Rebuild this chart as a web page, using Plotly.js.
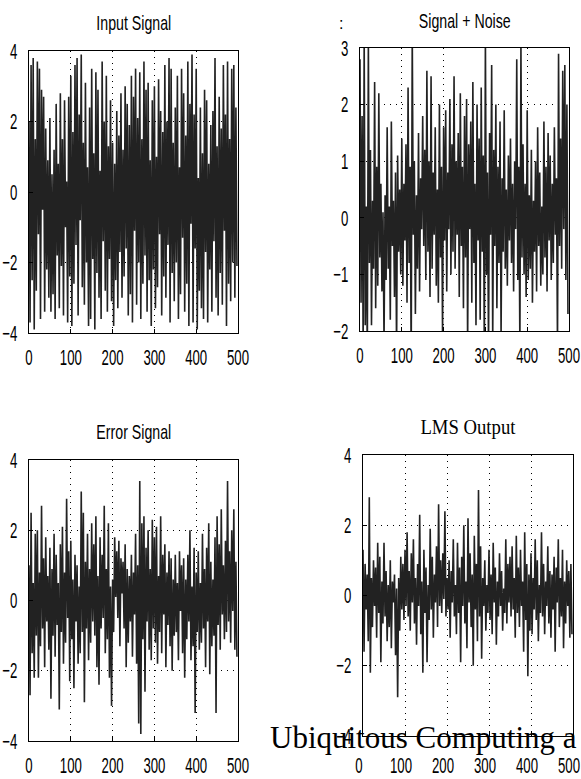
<!DOCTYPE html>
<html>
<head>
<meta charset="utf-8">
<script src="https://cdn.plot.ly/plotly-3.0.1.min.js"></script>
<style>html,body{margin:0;padding:0;background:#fff;}#chart{width:581px;height:779px;}</style>
</head>
<body>
<div id="chart"></div>
<script>
// ---- data (sample values, every 2.5 samples) ----
const titles = ["Input Signal", "Signal + Noise", "Error Signal", "LMS Output"];
const xTicks = [0, 100, 200, 300, 400, 500];
const sampleStep = 2.5;

const inputSignal = [
 2.0,-3.7,3.6,-2.5,3.8,-3.9,1.5,-2.8,3.7,-1.2,3.5,-3.6,2.9,-0.5,2.7,-3.4,1.8,-2.2,0.9,-3.0,
 2.1,-3.4,0.5,-2.9,1.2,-3.6,2.5,-1.8,0.8,-3.3,2.8,-2.1,1.5,-3.5,2.6,-1.0,0.3,-3.7,2.7,-2.4,
 3.3,-3.8,1.7,-2.6,3.6,-1.5,3.8,-3.5,2.2,-0.8,3.9,-2.7,1.4,-3.2,3.1,-2.0,0.7,-3.8,2.4,-3.6,
 3.5,-1.9,1.1,-3.9,3.4,-2.3,2.9,-3.0,0.6,-3.6,3.7,-1.4,2.0,-2.8,3.3,-3.4,1.3,-1.9,2.6,-3.1,
 1.4,-3.8,0.8,-2.5,2.3,-3.3,1.6,-1.7,2.8,-3.0,1.2,-2.4,3.0,-1.6,2.5,-3.5,1.9,-2.9,3.3,-3.7,
 2.7,-1.1,3.5,-3.2,2.1,-2.0,3.4,-3.6,1.5,-2.6,3.7,-1.8,2.9,-3.4,3.1,-2.5,0.9,-3.8,2.6,-2.2,
 3.0,-3.3,1.0,-2.7,3.2,-1.2,2.3,-3.5,1.7,-2.4,3.6,-3.0,2.0,-1.5,3.8,-3.7,3.5,-2.3,1.4,-3.1,
 2.4,-2.0,3.3,-3.6,0.7,-2.9,3.5,-1.3,2.8,-3.4,1.6,-2.6,3.7,-3.8,2.5,-0.9,3.9,-3.7,2.2,-1.6,
 3.5,-3.9,0.4,-2.8,2.4,-3.3,1.1,-3.6,2.9,-1.7,2.6,-3.7,0.8,-2.2,1.9,-3.4,2.3,-1.4,3.8,-3.0,
 1.3,-3.5,2.7,-2.3,1.8,-3.2,3.6,-1.1,2.2,-3.8,3.7,-2.6,1.5,-3.1,3.5,-2.0,3.6,-3.0,2.4,-2.1
];
const signalNoise = [
 2.8,-1.5,1.8,-2.3,3.2,-1.9,0.2,-2.5,3.1,-0.8,1.2,-1.9,0.3,-0.9,2.4,-1.6,0.9,-1.2,2.2,-0.7,
 0.6,-1.3,0.1,-2.2,0.4,-1.1,1.6,-0.9,0.2,-1.8,1.7,-0.5,0.3,-1.4,0.8,-2.4,1.1,-0.6,0.5,-1.0,
 1.4,-1.2,0.6,-0.4,1.3,-1.5,2.3,-0.8,0.9,-2.6,3.3,-0.3,1.0,-1.7,0.4,-0.9,1.5,-1.3,0.7,-0.2,
 1.8,-0.5,1.2,-1.1,2.6,-0.6,1.0,-1.4,2.5,-0.9,0.8,-0.3,1.6,-1.2,0.5,-1.5,2.0,-0.7,0.9,-2.1,
 1.6,-0.4,1.9,-1.3,0.8,-0.2,2.1,-1.0,1.3,-0.6,2.5,-0.9,1.0,-0.3,1.5,-1.4,2.2,-0.5,0.9,-1.6,
 1.8,-0.7,2.1,-2.3,1.3,-0.2,1.7,-1.5,2.4,-0.8,0.6,-1.9,2.0,-0.4,1.4,-1.8,2.3,-0.6,1.1,-2.5,
 3.2,-1.0,0.8,-2.4,1.5,-0.3,2.7,-2.2,1.2,-0.5,2.0,-1.6,0.9,-0.8,1.7,-2.1,0.7,-0.6,1.9,-0.9,
 0.5,-1.2,1.1,-0.4,1.4,-0.8,0.6,-1.3,1.0,-0.2,2.8,-1.1,0.9,-2.3,3.1,-0.7,1.3,-1.0,0.6,-1.4,
 1.9,-1.1,0.4,-0.9,1.2,-1.5,0.3,-0.6,1.0,-1.3,1.6,-0.5,0.8,-1.2,0.2,-1.0,1.7,-0.7,0.9,-1.3,
 1.5,-0.4,1.1,-1.1,0.6,-0.8,1.6,-0.3,0.7,-2.3,2.9,-0.5,1.4,-0.9,2.6,-0.2,2.7,-1.1,2.0,-1.7
];
const errorSignal = [
 1.0,-2.7,2.5,-1.5,0.5,-2.2,1.9,-1.0,2.0,-2.2,0.8,-1.3,2.7,-0.8,1.2,-1.9,1.8,-0.6,0.7,-1.4,
 1.5,-2.8,0.9,-1.0,1.9,-1.6,1.3,-0.7,0.5,-3.1,1.6,-0.9,2.1,-1.8,0.8,-1.2,2.9,-0.5,1.4,-2.3,
 1.7,-1.1,0.6,-2.5,1.3,-0.6,1.0,-1.8,0.4,-1.5,3.1,-0.9,2.5,-2.9,1.1,-0.8,1.9,-1.7,0.9,-1.2,
 2.2,-0.6,1.6,-1.0,2.4,-1.9,0.7,-2.4,1.8,-0.8,1.3,-0.5,2.7,-1.5,0.9,-1.1,2.2,-2.2,0.4,-3.0,
 0.6,-0.9,1.8,0.1,1.4,-0.5,1.7,-1.3,1.2,0.2,1.1,-0.8,1.6,-1.9,0.9,-1.2,0.7,-0.6,1.3,-1.6,
 0.8,-0.4,1.9,-1.8,1.0,-3.5,3.4,-3.8,2.2,-1.1,2.4,-2.6,1.5,-0.6,2.0,-1.4,0.9,-1.7,2.3,-0.8,
 1.8,-1.2,2.1,-1.8,0.7,-0.9,2.4,-1.5,1.3,-0.4,1.6,-1.9,0.8,-0.7,1.4,-1.3,1.2,-2.0,0.6,-1.0,
 1.3,-0.9,0.5,-1.7,1.4,-0.3,1.0,-1.5,1.2,-2.2,0.6,-1.1,1.3,-0.6,2.0,-1.7,0.4,-1.3,1.5,-3.2,
 0.8,-0.9,1.4,-1.4,0.5,-1.2,1.9,-0.8,0.9,-1.9,1.5,-0.6,2.2,-2.1,1.1,-1.3,0.6,-1.0,1.8,-3.2,
 2.4,-0.7,1.6,-1.4,2.6,-0.4,1.0,-1.1,1.7,-0.9,3.4,-0.6,1.4,-1.2,2.0,-0.3,2.6,-1.4,1.1,-1.6
];
const lmsOutput = [
 1.3,-1.6,0.9,-0.4,0.6,-1.3,2.8,-2.2,0.5,-0.9,1.0,-0.3,0.8,-1.2,1.5,-0.5,1.1,-1.9,0.4,-0.8,
 1.5,-0.6,0.7,-1.3,0.3,-0.9,1.0,-1.5,0.4,-0.2,0.6,-1.7,0.2,-2.9,0.5,-1.0,1.1,-0.4,0.9,-0.7,
 1.3,-0.3,1.8,-0.6,0.7,-1.0,1.2,-0.2,1.6,-0.8,0.5,-1.4,0.9,-0.3,2.3,-1.1,0.4,-2.2,1.3,-0.5,
 0.8,-1.9,0.3,-0.7,1.9,-0.4,1.1,-1.2,0.6,-0.2,1.4,-0.9,2.6,-0.3,1.0,-0.5,1.2,-0.1,2.4,-0.6,
 0.5,-0.4,1.0,-1.2,0.7,-0.2,1.6,-0.6,0.3,-1.1,1.5,-0.5,0.8,-1.9,1.1,-0.3,2.0,-0.8,0.4,-1.5,
 2.2,-0.2,1.2,-0.9,0.6,-2.0,1.7,-0.4,0.9,-1.3,3.0,-0.6,1.4,-1.8,0.5,-0.3,1.0,-1.0,0.3,-0.5,
 1.3,-0.7,0.6,-1.1,1.5,-0.2,0.8,-1.4,0.4,-0.6,1.2,-0.3,0.7,-1.0,0.2,-0.5,1.6,-0.8,0.9,-0.2,
 1.1,-0.6,1.4,-0.4,0.5,-1.2,1.7,-0.5,0.8,-0.9,1.3,-0.3,0.4,-1.6,1.8,-0.7,0.9,-2.3,0.6,-1.0,
 1.2,-1.1,0.5,-0.4,1.6,-0.7,1.0,-1.3,0.3,-0.5,1.8,-0.6,0.9,-1.1,0.4,-0.3,1.4,-0.8,0.7,-1.2,
 0.6,-0.4,1.1,-1.6,0.8,-0.2,1.6,-0.9,0.5,-0.6,1.3,-1.5,0.4,-0.8,1.0,-0.3,0.7,-1.2,0.9,-1.1
];
const yRanges = [[-4,4],[-2,3],[-4,4],[-4,4]];
const yDticks = [2,1,2,2];
const overlayText = "Ubiquitous Computing a";

// ---- layout helpers (pixel -> paper) ----
const W = 581, H = 779;
const px = v => v / W;
const py = v => 1 - v / H;
const boxes = [
  {l:29, r:238, t:51, b:333, ty:23},
  {l:360, r:569, t:48, b:331, ty:21},
  {l:29, r:238, t:460, b:741, ty:432},
  {l:363, r:573, t:455, b:736, ty:426}
];
const series = [inputSignal, signalNoise, errorSignal, lmsOutput];
const sans = '"Liberation Sans", Arial, sans-serif';
const serif = '"Liberation Serif", "Times New Roman", serif';

const traces = series.map((ys, i) => ({
  type: 'scatter', mode: 'lines',
  x: ys.map((_, k) => k * sampleStep), y: ys,
  xaxis: i === 0 ? 'x' : 'x' + (i + 1),
  yaxis: i === 0 ? 'y' : 'y' + (i + 1),
  line: {color: '#222', width: 1.6},
  hoverinfo: 'skip', showlegend: false
}));

const layout = {
  width: W, height: H,
  margin: {l:0, r:0, t:0, b:0},
  paper_bgcolor: '#fff', plot_bgcolor: '#fff',
  showlegend: false,
  annotations: []
};
boxes.forEach((b, i) => {
  const sx = i === 0 ? '' : String(i + 1);
  const common = {
    showline: true, mirror: true, linecolor: '#000', linewidth: 1.3,
    ticks: 'inside', ticklen: 4, tickcolor: '#000', tickwidth: 1,
    showgrid: true, gridcolor: '#000', gridwidth: 1, griddash: '1px,5px',
    zeroline: false, fixedrange: true, ticklabeloverflow: 'allow',
    tickfont: {family: sans, size: 22, color: '#000'}
  };
  layout['xaxis' + sx] = Object.assign({}, common, {
    domain: [px(b.l), px(b.r)], range: [0, 500],
    tickmode: 'array', tickvals: xTicks, ticktext: xTicks.map(String),
    anchor: 'y' + sx, ticklabelstandoff: i === 3 ? 9 : 4
  });
  layout['yaxis' + sx] = Object.assign({}, common, {
    domain: [py(b.b), py(b.t)], range: yRanges[i],
    tick0: 0, dtick: yDticks[i],
    anchor: 'x' + sx, ticklabelstandoff: 6
  });
  layout.annotations.push({
    xref: 'paper', yref: 'paper',
    x: px((b.l + b.r) / 2), y: py(b.ty),
    xanchor: 'center', yanchor: 'middle', showarrow: false,
    text: titles[i],
    font: {family: i === 3 ? serif : sans, size: i === 3 ? 22 : 20, color: '#000'}
  });
});
layout.annotations.push({
  xref: 'paper', yref: 'paper', x: px(341), y: py(24),
  xanchor: 'center', yanchor: 'middle', showarrow: false,
  text: ':', font: {family: sans, size: 16, color: '#000'}
});
layout.annotations.push({
  xref: 'paper', yref: 'paper', x: px(268), y: py(737),
  xanchor: 'left', yanchor: 'middle', showarrow: false,
  text: overlayText, font: {family: serif, size: 31, color: '#000'}
});

// horizontal squeeze of a text element (the reference lettering is tall and narrow)
function squeeze(el, s, anchor, dx) {
  const bb = el.getBBox();
  const cx = anchor === 'end' ? bb.x + bb.width : bb.x + bb.width / 2;
  const t = el.getAttribute('transform') || '';
  el.setAttribute('transform', `${t} translate(${cx + (dx || 0)},0) scale(${s},1) translate(${-cx},0)`);
}

Plotly.newPlot('chart', traces, layout, {staticPlot: true, displayModeBar: false}).then(gd => {
  gd.querySelectorAll('.xaxislayer-above text').forEach(el => {
    const inLast = el.closest('.x4tick') !== null;
    squeeze(el, 0.6, 'middle', inLast ? -4 : 0);
  });
  gd.querySelectorAll('.yaxislayer-above text').forEach(el => squeeze(el, 0.6, 'end'));
  gd.querySelectorAll('.annotation-text').forEach(el => {
    const txt = el.textContent;
    if (txt === titles[3]) squeeze(el, 0.85, 'middle');
    else if (titles.includes(txt)) squeeze(el, 0.71, 'middle');
  });
});
</script>
</body>
</html>
